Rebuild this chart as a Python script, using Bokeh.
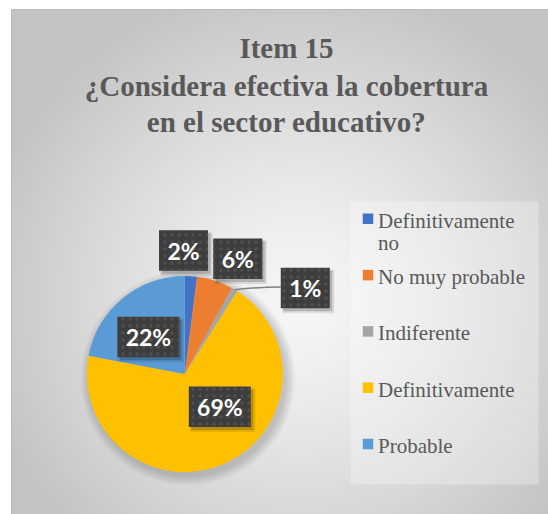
import math
import textwrap
import numpy as np
from bokeh.plotting import figure
from bokeh.models import Range1d, ColumnDataSource
from bokeh.core.properties import value
from bokeh.embed import file_html
from bokeh.resources import INLINE

# ---------------- data ----------------
title_lines = ["Item 15", "¿Considera efectiva la cobertura", "en el sector educativo?"]
categories = ["Definitivamente no", "No muy probable", "Indiferente", "Definitivamente", "Probable"]
percentages = [2, 6, 1, 69, 22]
colors = ["#4472C4", "#ED7D31", "#A5A5A5", "#FFC000", "#5B9BD5"]

# ---------------- layout / style ----------------
label_angle = [90.6, 65.3, 35.5, -43.2, 134.5]   # degrees (best-fit placement)
label_dist = [1.26, 1.294, 1.51, 0.49, 0.53]     # fraction of radius
PCX, PCY, R = 184.3, 373.5, 98.0                 # pie centre (page px) and radius
TEXT_GRAY = "#595959"
SERIF = value("'Liberation Serif', 'Times New Roman', serif")
SANS = value("Lato, 'Open Sans', sans-serif")

W, H = 548, 514
p = figure(width=W, height=H, x_range=Range1d(0, W), y_range=Range1d(-H, 0),
           output_backend="svg", toolbar_location=None, min_border=0,
           x_axis_location=None, y_axis_location=None)
p.xgrid.grid_line_color = None
p.ygrid.grid_line_color = None
p.outline_line_color = None
p.background_fill_color = "white"
p.border_fill_color = "white"

def Y(py):
    return -py

# background radial gradient
gx0, gy0, gw, gh = 11, 9, 545, 512
nx, ny = 272, 256
xs = np.linspace(gx0, gx0 + gw, nx)
ys = np.linspace(gy0 + gh, gy0, ny)  # row 0 = bottom
X, Yg = np.meshgrid(xs, ys)
t = np.sqrt(((X - 300) / 330.0) ** 2 + ((Yg - 300) / 330.0) ** 2)
v = (247 - 52 * np.clip(t, 0, 1) ** 1.25).astype(np.uint32)
img = np.empty((ny, nx), dtype=np.uint32)
view = img.view(dtype=np.uint8).reshape((ny, nx, 4))
view[:, :, 0] = v
view[:, :, 1] = v
view[:, :, 2] = v
view[:, :, 3] = 255
p.image_rgba(image=[img], x=gx0, y=Y(gy0 + gh), dw=gw, dh=gh)
p.quad(left=[11], right=[570], top=[Y(9)], bottom=[Y(530)], fill_color=None,
       line_color="#bcbcbc", line_width=1)

# legend box
p.quad(left=[350], right=[538], top=[Y(201)], bottom=[Y(484)], fill_color="white",
       fill_alpha=0.28, line_color=None)

# pie shadow
for extra in [9, 7, 5, 3, 1]:
    p.circle(x=[PCX + 3], y=[Y(PCY) - 4], radius=R + extra, fill_color="black",
             fill_alpha=0.035, line_color=None)

# pie
total = float(sum(percentages))
cum = np.cumsum([0] + percentages) / total
starts = [math.pi / 2 - 2 * math.pi * cum[i + 1] for i in range(len(percentages))]
ends = [math.pi / 2 - 2 * math.pi * cum[i] for i in range(len(percentages))]
src = ColumnDataSource(dict(start=starts, end=ends, color=colors, cat=categories))
p.wedge(x=PCX, y=Y(PCY), radius=R, start_angle="start", end_angle="end",
        fill_color="color", line_color=None, source=src)

# data labels
for i, pct in enumerate(percentages):
    txt = f"{pct}%"
    a = math.radians(label_angle[i])
    lx = PCX + label_dist[i] * R * math.cos(a)
    ly = Y(PCY) + label_dist[i] * R * math.sin(a)
    w = 23 + 13 * len(txt)
    h = 40.5
    if label_dist[i] > 1.4:
        mid = (ends[i] + starts[i]) / 2
        x0 = PCX + R * math.cos(mid)
        y0 = Y(PCY) + R * math.sin(mid)
        x1 = lx - w / 2
        y1 = ly + 1
        p.quadratic(x0=[x0], y0=[y0], x1=[x1], y1=[y1], cx=[(x0 + x1) / 2], cy=[y1],
                    line_color="#808080", line_width=1.5)
    p.rect(x=[lx + 3], y=[ly - 3.5], width=w + 3, height=h + 3, fill_color="black",
           fill_alpha=0.10, line_color=None)
    p.rect(x=[lx + 2.5], y=[ly - 3], width=w, height=h, fill_color="black",
           fill_alpha=0.18, line_color=None)
    p.rect(x=[lx], y=[ly], width=w, height=h, fill_color="#3d3d3d", line_color=None,
           hatch_pattern="dot", hatch_color="#4f4f4f", hatch_scale=7, hatch_weight=1.2)
    p.text(x=[lx], y=[ly], text=[txt], text_align="center", text_baseline="middle",
           text_font=SANS, text_font_style="bold", text_font_size="23px",
           text_color="white")

# title
title_y = [47, 85, 121]
for line, ty in zip(title_lines, title_y):
    p.text(x=[286], y=[Y(ty)], text=[line], text_align="center", text_baseline="middle",
           text_font=SERIF, text_font_style="bold",
           text_font_size="29px", text_color=TEXT_GRAY)

# legend
leg_top, leg_step = 218.3, 56.3
for i, (cat, col) in enumerate(zip(categories, colors)):
    sy = leg_top + i * leg_step
    p.rect(x=[367.5], y=[Y(sy)], width=10.5, height=10.5, fill_color=col, line_color=None)
    for j, ln in enumerate(textwrap.wrap(cat, 16)):
        p.text(x=[377.5], y=[Y(sy + 2 + j * 22.6)], text=[ln], text_align="left",
               text_baseline="middle", text_font=SERIF,
               text_font_size="21px", text_color=TEXT_GRAY)

open("out.html", "w").write(file_html(p, INLINE))
